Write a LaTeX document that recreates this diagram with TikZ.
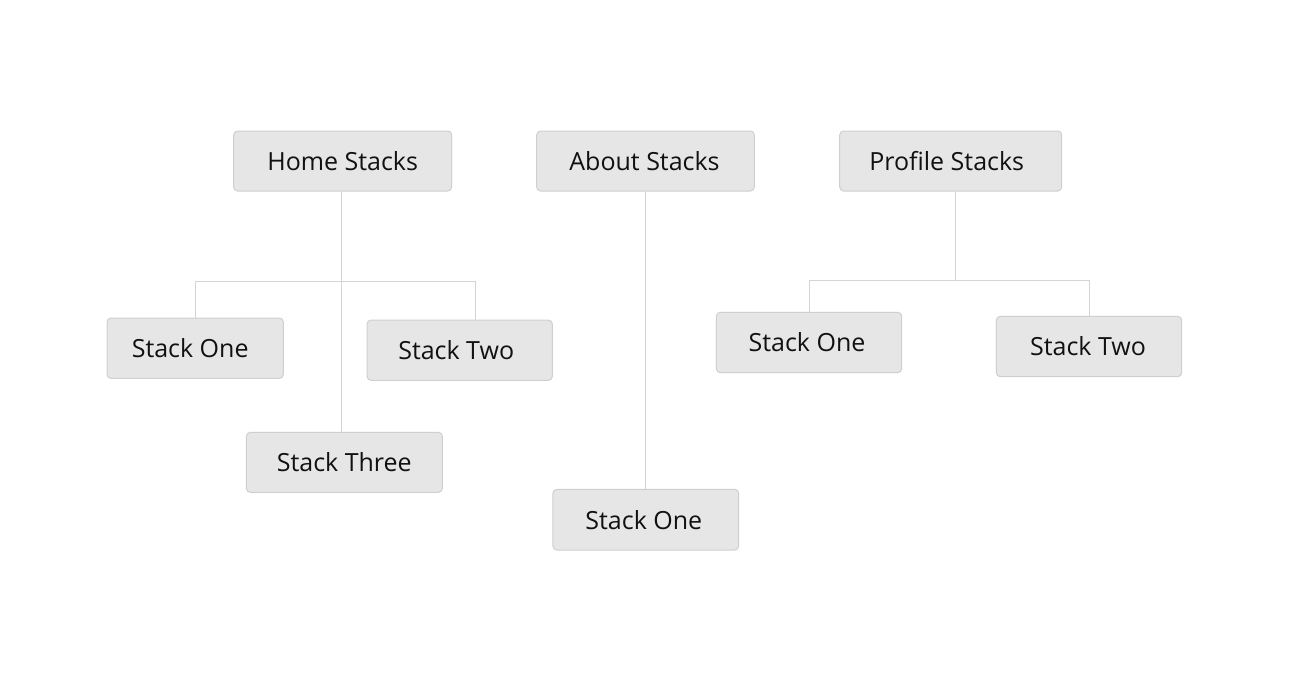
\documentclass[tikz,border=0pt]{standalone}
\usepackage{fontspec}
\setmainfont{Open Sans}
\definecolor{boxfill}{HTML}{E6E6E6}
\definecolor{boxline}{HTML}{CFCFCF}
\definecolor{wire}{HTML}{D4D4D4}
\definecolor{ink}{HTML}{111111}
\begin{document}
\begin{tikzpicture}[x=1pt,y=-1pt,
  stackbox/.style={draw=boxline, fill=boxfill, line width=1pt, rounded corners=4pt,
    inner sep=0pt, text=ink, font=\fontsize{25pt}{29pt}\selectfont},
  wireline/.style={draw=wire, line width=1pt}]
\useasboundingbox[fill=white] (0,0) rectangle (1289,681);
% top level
\node[stackbox, minimum width=218pt, minimum height=60pt] (hs) at (342.7,161) {Home Stacks};
\node[stackbox, minimum width=217.6pt, minimum height=60pt] (as) at (645.5,161) {About Stacks\hspace*{2pt}};
\node[stackbox, minimum width=222pt, minimum height=60pt] (ps) at (950.7,161) {Profile Stacks\hspace*{8pt}};
% home children
\node[stackbox, minimum width=176.3pt, minimum height=60.3pt] (h1) at (195.2,348.2) {Stack One\hspace*{10pt}};
\node[stackbox, minimum width=185.3pt, minimum height=60.3pt] (h2) at (459.7,350.2) {Stack Two\hspace*{7pt}};
\node[stackbox, minimum width=196pt, minimum height=60pt] (h3) at (344.3,462.3) {Stack Three};
% about child
\node[stackbox, minimum width=185.7pt, minimum height=60.7pt] (a1) at (645.8,519.7) {Stack One\hspace*{4pt}};
% profile children
\node[stackbox, minimum width=185.4pt, minimum height=60.4pt] (p1) at (809,342.5) {Stack One\hspace*{4pt}};
\node[stackbox, minimum width=185.4pt, minimum height=60.4pt] (p2) at (1089,346.5) {Stack Two\hspace*{2pt}};
% junctions
\coordinate (hj) at (341.7,281);
\coordinate (hl) at (195.3,281);
\coordinate (hr) at (475.7,281);
\coordinate (pj) at (955.7,280.3);
\coordinate (pl) at (809.3,280.3);
\coordinate (pr) at (1089.3,280.3);
% connectors
\draw[wireline] (hs.south -| hj) -- (hj);
\draw[wireline] (hl |- h1.north) -- (hl) -- (hr) -- (hr |- h2.north);
\draw[wireline] (hj) -- (h3.north -| hj);
\draw[wireline] (as.south -| a1.north) -- (a1.north);
\draw[wireline] (ps.south -| pj) -- (pj);
\draw[wireline] (pl |- p1.north) -- (pl) -- (pr) -- (pr |- p2.north);
\end{tikzpicture}
\end{document}
